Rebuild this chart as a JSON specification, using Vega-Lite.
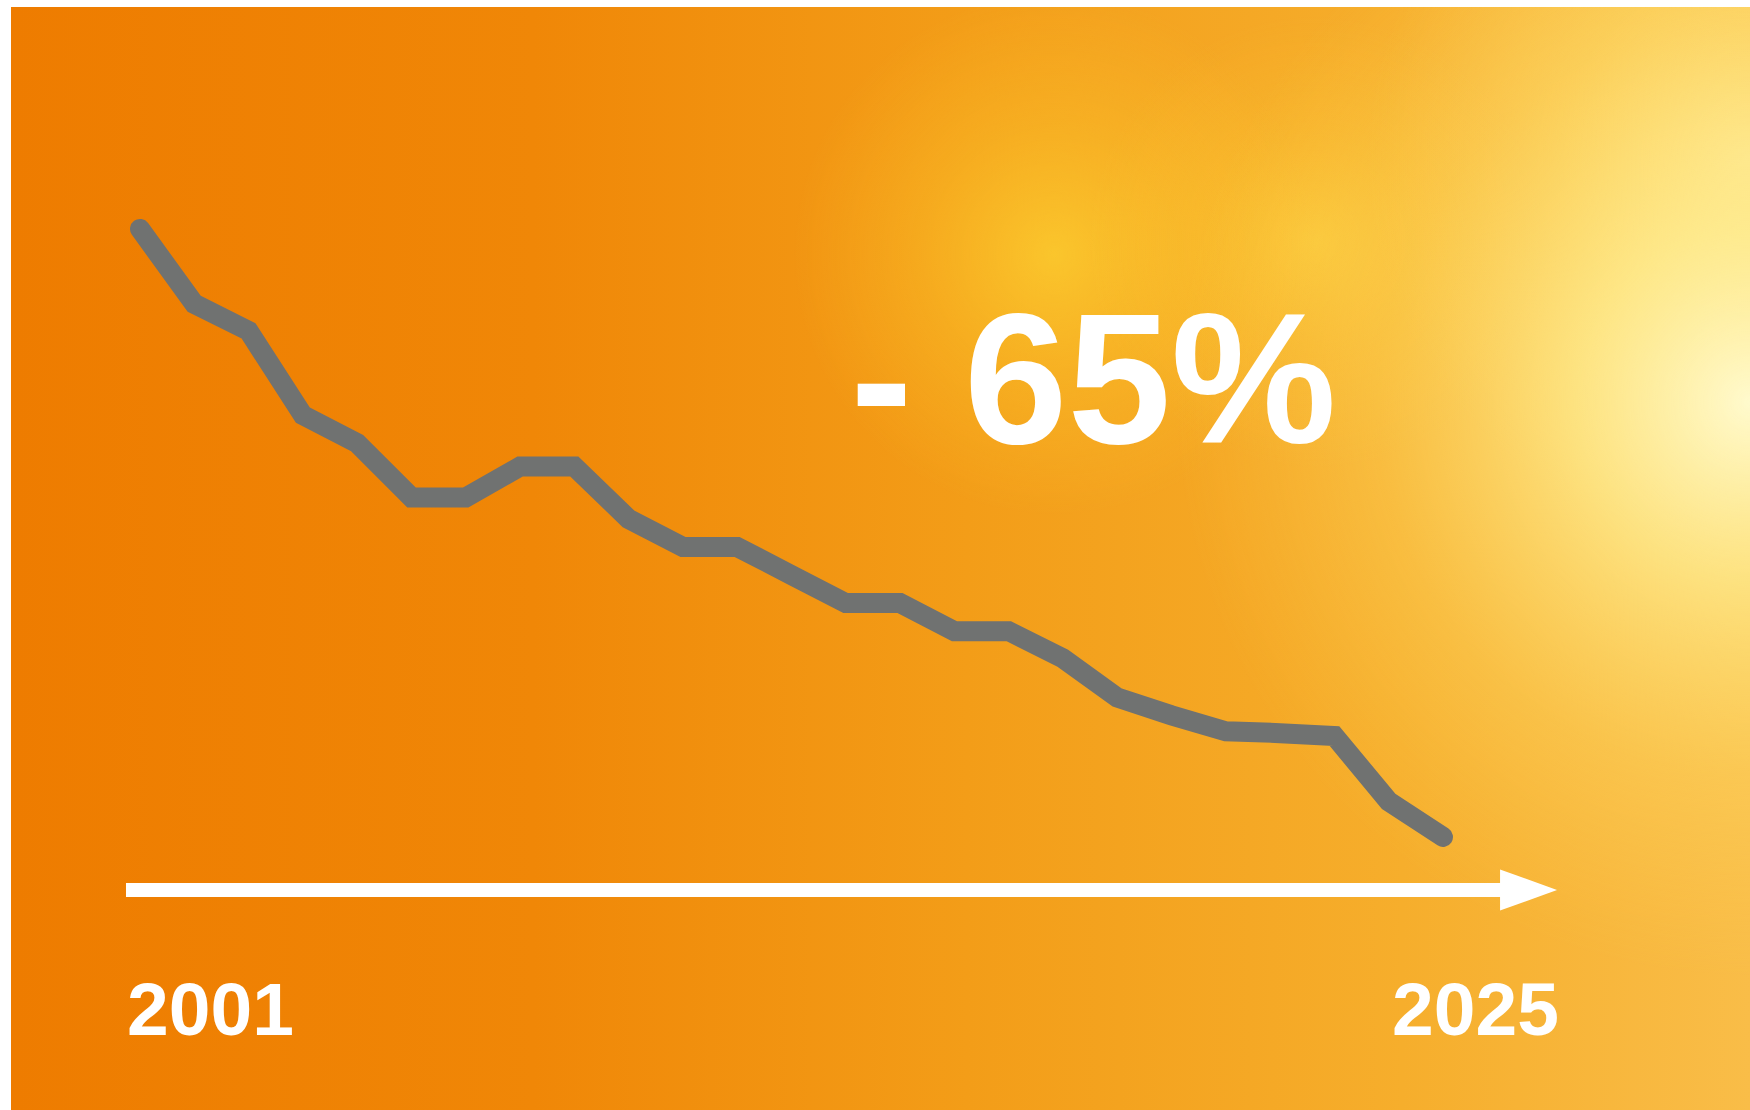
{
  "$schema": "https://vega.github.io/schema/vega-lite/v6.json",
  "autosize": {"type": "fit", "contains": "padding"},
  "width": 1750,
  "height": 1110,
  "padding": {"left": 11, "top": 7, "right": 0, "bottom": 0},
  "background": "#ffffff",
  "config": {"view": {"stroke": null}, "axis": {"disable": true}},
  "data": {"values": [
    {"year": 2001, "index": 100.0},
    {"year": 2002, "index": 92.0},
    {"year": 2003, "index": 89.1},
    {"year": 2004, "index": 80.1},
    {"year": 2005, "index": 77.1},
    {"year": 2006, "index": 71.3},
    {"year": 2007, "index": 71.3},
    {"year": 2008, "index": 74.6},
    {"year": 2009, "index": 74.6},
    {"year": 2010, "index": 69.0},
    {"year": 2011, "index": 66.0},
    {"year": 2012, "index": 66.0},
    {"year": 2013, "index": 63.0},
    {"year": 2014, "index": 60.0},
    {"year": 2015, "index": 60.0},
    {"year": 2016, "index": 57.0},
    {"year": 2017, "index": 57.0},
    {"year": 2018, "index": 54.1},
    {"year": 2019, "index": 49.9},
    {"year": 2020, "index": 48.0},
    {"year": 2021, "index": 46.3},
    {"year": 2022, "index": 46.1},
    {"year": 2023, "index": 45.8},
    {"year": 2024, "index": 38.8},
    {"year": 2025, "index": 35.0}
  ]},
  "layer": [
    {
      "data": {"values": [{}]},
      "mark": {"type": "rect", "fill": {"gradient": "linear", "x1": 0, "y1": 0.5, "x2": 1, "y2": 0.5, "stops": [
        {"offset": 0, "color": "#EE7C00"},
        {"offset": 0.3, "color": "#F08707"},
        {"offset": 0.55, "color": "#F39D18"},
        {"offset": 0.8, "color": "#F6AE2C"},
        {"offset": 1, "color": "#F9BD48"}
      ]}},
      "encoding": {
        "x": {"datum": 1998.624, "type": "quantitative", "scale": {"domain": [1998.624, 2030.655], "nice": false, "zero": false}},
        "x2": {"datum": 2030.655},
        "y": {"datum": 5.81, "type": "quantitative", "scale": {"domain": [5.81, 123.73], "nice": false, "zero": false}},
        "y2": {"datum": 123.73}
      }
    },
    {
      "data": {"values": [{}]},
      "mark": {"type": "rect", "fill": {"gradient": "radial", "x1": 0.6, "y1": 0.325, "r1": 0, "x2": 0.6, "y2": 0.325, "r2": 0.15, "stops": [
        {"offset": 0, "color": "rgba(255,222,55,0.6)"},
        {"offset": 0.5, "color": "rgba(255,212,50,0.28)"},
        {"offset": 1, "color": "rgba(255,205,50,0)"}
      ]}},
      "encoding": {
        "x": {"datum": 1998.624, "type": "quantitative"},
        "x2": {"datum": 2030.655},
        "y": {"datum": 5.81, "type": "quantitative"},
        "y2": {"datum": 123.73}
      }
    },
    {
      "data": {"values": [{}]},
      "mark": {"type": "rect", "fill": {"gradient": "radial", "x1": 0.75, "y1": 0.318, "r1": 0, "x2": 0.75, "y2": 0.318, "r2": 0.13, "stops": [
        {"offset": 0, "color": "rgba(255,225,70,0.5)"},
        {"offset": 0.5, "color": "rgba(255,215,60,0.22)"},
        {"offset": 1, "color": "rgba(255,210,60,0)"}
      ]}},
      "encoding": {
        "x": {"datum": 1998.624, "type": "quantitative"},
        "x2": {"datum": 2030.655},
        "y": {"datum": 5.81, "type": "quantitative"},
        "y2": {"datum": 123.73}
      }
    },
    {
      "data": {"values": [{}]},
      "mark": {"type": "rect", "fill": {"gradient": "radial", "x1": 1.0, "y1": 0.27, "r1": 0, "x2": 1.0, "y2": 0.27, "r2": 0.22, "stops": [
        {"offset": 0, "color": "rgba(255,245,180,0.7)"},
        {"offset": 0.5, "color": "rgba(255,230,120,0.35)"},
        {"offset": 1, "color": "rgba(255,220,100,0)"}
      ]}},
      "encoding": {
        "x": {"datum": 1998.624, "type": "quantitative"},
        "x2": {"datum": 2030.655},
        "y": {"datum": 5.81, "type": "quantitative"},
        "y2": {"datum": 123.73}
      }
    },
    {
      "data": {"values": [{}]},
      "mark": {"type": "rect", "fill": {"gradient": "radial", "x1": 1.0, "y1": 0.41, "r1": 0, "x2": 1.0, "y2": 0.41, "r2": 0.33, "stops": [
        {"offset": 0, "color": "rgba(255,250,205,1)"},
        {"offset": 0.3, "color": "rgba(255,240,150,0.75)"},
        {"offset": 0.65, "color": "rgba(255,225,110,0.3)"},
        {"offset": 1, "color": "rgba(255,215,90,0)"}
      ]}},
      "encoding": {
        "x": {"datum": 1998.624, "type": "quantitative"},
        "x2": {"datum": 2030.655},
        "y": {"datum": 5.81, "type": "quantitative"},
        "y2": {"datum": 123.73}
      }
    },
    {
      "mark": {"type": "line", "color": "#707271", "strokeWidth": 20, "strokeCap": "round", "strokeJoin": "miter"},
      "encoding": {
        "x": {"field": "year", "type": "quantitative"},
        "y": {"field": "index", "type": "quantitative"}
      }
    },
    {
      "data": {"values": [{}]},
      "mark": {"type": "rule", "color": "#ffffff", "strokeWidth": 14, "strokeCap": "butt"},
      "encoding": {
        "x": {"datum": 2000.742, "type": "quantitative"},
        "x2": {"datum": 2026.14},
        "y": {"datum": 29.33, "type": "quantitative"}
      }
    },
    {
      "data": {"values": [{}]},
      "mark": {"type": "point", "shape": "M-1,-0.72L1,0L-1,0.72Z", "size": 3249, "filled": true, "color": "#ffffff", "opacity": 1},
      "encoding": {
        "x": {"datum": 2026.576, "type": "quantitative"},
        "y": {"datum": 29.33, "type": "quantitative"}
      }
    },
    {
      "data": {"values": [{"label": "2001"}]},
      "mark": {"type": "text", "font": "Liberation Sans", "fontWeight": "bold", "fontSize": 75, "color": "#ffffff", "align": "left", "baseline": "alphabetic", "dx": -13},
      "encoding": {
        "x": {"datum": 2001, "type": "quantitative"},
        "y": {"datum": 13.83, "type": "quantitative"},
        "text": {"field": "label"}
      }
    },
    {
      "data": {"values": [{"label": "2025"}]},
      "mark": {"type": "text", "font": "Liberation Sans", "fontWeight": "bold", "fontSize": 75, "color": "#ffffff", "align": "right", "baseline": "alphabetic", "dx": 116},
      "encoding": {
        "x": {"datum": 2025, "type": "quantitative"},
        "y": {"datum": 13.83, "type": "quantitative"},
        "text": {"field": "label"}
      }
    },
    {
      "data": {"values": [{"label": "- 65%"}]},
      "mark": {"type": "text", "font": "Liberation Sans", "fontWeight": "bold", "fontSize": 186, "color": "#ffffff", "align": "center", "baseline": "alphabetic"},
      "encoding": {
        "x": {"datum": 2018.56, "type": "quantitative"},
        "y": {"datum": 77.12, "type": "quantitative"},
        "text": {"field": "label"}
      }
    }
  ]
}
